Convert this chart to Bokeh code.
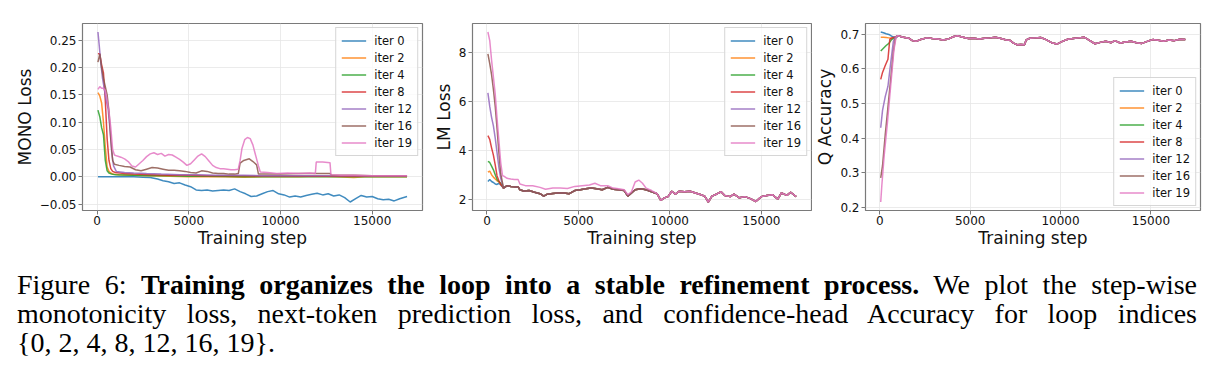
from bokeh.plotting import figure
from bokeh.models import (Range1d, FixedTicker, CustomJSTickFormatter, PrintfTickFormatter,
                          Legend, LegendItem, Div)
from bokeh.layouts import row, column
from bokeh.embed import file_html
from bokeh.resources import INLINE

LABELS = ["iter 0", "iter 2", "iter 4", "iter 8", "iter 12", "iter 16", "iter 19"]
COLORS = ["#1f77b4", "#ff7f0e", "#2ca02c", "#d62728", "#9467bd", "#8c564b", "#e377c2"]
X_TICKS = [0, 5000, 10000, 15000]

# ---------------- MONO loss ----------------
mono_steps_0 = [50, 500, 1000, 1500, 2000, 2500, 2900, 3300, 3600, 3900, 4200, 4500, 4800, 5100,
                5400, 5700, 6000, 6300, 6600, 6900, 7200, 7500, 7800, 8100, 8400, 8700, 9000, 9300,
                9600, 9900, 10200, 10500, 10800, 11100, 11400, 11700, 12000, 12300, 12600, 12900,
                13200, 13500, 13800, 14100, 14400, 14700, 15000, 15300, 15600, 15900, 16200, 16500, 16900]
mono_iter0 = [0.0, 0.0, 0.0, 0.0, 0.0, -0.0005, -0.001, -0.004, -0.007, -0.009, -0.012, -0.011, -0.015,
              -0.018, -0.024, -0.025, -0.024, -0.026, -0.025, -0.024, -0.025, -0.022, -0.027, -0.031,
              -0.036, -0.035, -0.031, -0.027, -0.025, -0.031, -0.033, -0.037, -0.035, -0.037, -0.034,
              -0.032, -0.030, -0.033, -0.031, -0.035, -0.033, -0.038, -0.046, -0.040, -0.034, -0.037,
              -0.036, -0.040, -0.042, -0.041, -0.044, -0.040, -0.036]

mono_steps_2 = [50, 150, 250, 350, 450, 550, 650, 750, 900, 1200, 2000, 3000, 4000, 5000, 6000, 7000,
                8000, 9000, 10000, 11000, 12000, 13000, 14000, 14600, 15500, 16900]
mono_iter2 = [0.154, 0.148, 0.135, 0.100, 0.055, 0.018, 0.010, 0.007, 0.005, 0.004, 0.003, 0.002,
              0.001, 0.000, 0.0005, 0.000, -0.0005, 0.000, 0.0005, 0.000, 0.001, 0.000, -0.001, 0.000,
              0.0005, 0.000]

mono_steps_4 = [50, 150, 250, 350, 450, 550, 650, 800, 1000, 2000, 3000, 4000, 5000, 6000, 7000, 8000,
                9000, 10000, 12000, 14000, 16900]
mono_iter4 = [0.122, 0.110, 0.090, 0.077, 0.030, 0.011, 0.007, 0.005, 0.004, 0.003, 0.002, 0.002,
              0.001, 0.001, 0.0005, 0.000, 0.000, 0.0005, 0.000, 0.000, 0.000]

mono_steps_8 = [50, 150, 250, 350, 450, 550, 650, 750, 850, 1000, 1500, 2000, 3000, 4000, 5000, 6000,
                7000, 8000, 9000, 10000, 12000, 14000, 16900]
mono_iter8 = [0.225, 0.225, 0.205, 0.190, 0.140, 0.070, 0.030, 0.015, 0.010, 0.008, 0.006, 0.005,
              0.004, 0.003, 0.003, 0.002, 0.002, 0.002, 0.0015, 0.0015, 0.001, 0.001, 0.001]

mono_steps_12 = [50, 120, 200, 300, 400, 500, 600, 700, 800, 900, 1050, 1500, 2000, 2700, 3500, 4500,
                 5500, 6500, 8000, 9000, 10000, 12000, 14000, 16900]
mono_iter12 = [0.265, 0.240, 0.210, 0.180, 0.160, 0.140, 0.125, 0.090, 0.045, 0.020, 0.010, 0.008,
               0.007, 0.006, 0.005, 0.004, 0.004, 0.003, 0.003, 0.002, 0.002, 0.002, 0.002, 0.002]

mono_steps_16 = [50, 150, 250, 350, 450, 550, 650, 750, 850, 950, 1200, 1500, 1800, 2100, 2400, 2700,
                 3000, 3300, 3600, 3900, 4200, 4500, 4800, 5100, 5400, 5700, 6000, 6300, 6600, 6900,
                 7200, 7500, 7700, 7800, 8000, 8300, 8500, 8700, 8800, 9200, 10000, 11000, 11900,
                 12000, 12700, 12800, 14000, 15000, 16900]
mono_iter16 = [0.210, 0.225, 0.200, 0.180, 0.165, 0.150, 0.120, 0.070, 0.030, 0.023, 0.021, 0.019,
               0.018, 0.013, 0.011, 0.014, 0.017, 0.016, 0.014, 0.012, 0.012, 0.011, 0.010, 0.008,
               0.007, 0.011, 0.010, 0.007, 0.006, 0.006, 0.005, 0.005, 0.006, 0.025, 0.030, 0.033,
               0.028, 0.022, 0.005, 0.005, 0.005, 0.006, 0.006, 0.006, 0.006, 0.003, 0.003, 0.002, 0.002]

mono_steps_19 = [50, 150, 250, 350, 450, 550, 650, 750, 850, 950, 1100, 1300, 1500, 1700, 1900, 2100,
                 2300, 2500, 2700, 2900, 3100, 3300, 3500, 3700, 3900, 4100, 4300, 4500, 4700, 4900,
                 5100, 5300, 5500, 5700, 5900, 6100, 6300, 6500, 6700, 6900, 7100, 7300, 7500, 7700,
                 7800, 7900, 8050, 8200, 8350, 8500, 8600, 8800, 8900, 9300, 9800, 10400, 11000, 11600,
                 11900, 11950, 12300, 12700, 12750, 13300, 14000, 15000, 16000, 16900]
mono_iter19 = [0.160, 0.165, 0.162, 0.162, 0.158, 0.140, 0.120, 0.090, 0.050, 0.040, 0.038, 0.036,
               0.033, 0.028, 0.020, 0.018, 0.024, 0.030, 0.037, 0.042, 0.044, 0.041, 0.043, 0.038,
               0.041, 0.040, 0.036, 0.032, 0.027, 0.021, 0.024, 0.031, 0.038, 0.042, 0.037, 0.029,
               0.021, 0.017, 0.015, 0.015, 0.014, 0.013, 0.013, 0.014, 0.030, 0.052, 0.068, 0.072,
               0.070, 0.058, 0.045, 0.020, 0.009, 0.008, 0.006, 0.007, 0.006, 0.007, 0.006, 0.027,
               0.027, 0.026, 0.004, 0.003, 0.003, 0.002, 0.002, 0.002]

# ---------------- LM loss ----------------
lm_head_steps = [50, 150, 250, 350, 450, 550, 650, 750, 850]
lm_head = {
    "iter 0": [2.72, 2.80, 2.72, 2.68, 2.62, 2.60, 2.65, 2.58, 2.50],
    "iter 2": [3.10, 3.15, 3.00, 2.90, 2.82, 2.75, 2.70, 2.62, 2.52],
    "iter 4": [3.55, 3.50, 3.35, 3.20, 3.00, 2.80, 2.72, 2.65, 2.52],
    "iter 8": [4.60, 4.45, 4.10, 3.80, 3.40, 2.95, 2.75, 2.60, 2.52],
    "iter 12": [6.35, 5.80, 5.35, 5.00, 4.50, 3.90, 3.30, 2.85, 2.60],
    "iter 16": [7.95, 7.55, 7.10, 6.50, 5.80, 4.90, 3.90, 3.05, 2.65],
    "iter 19": [8.85, 8.50, 7.70, 7.00, 6.30, 5.30, 4.40, 3.50, 2.95],
}
lm_tail_steps = [900, 1100, 1300, 1500, 1700, 1800, 2000, 2300, 2600, 2900, 3100, 3300, 3600, 3900,
                 4200, 4500, 4800, 5100, 5400, 5700, 6000, 6300, 6600, 6900, 7200, 7500, 7700, 7900,
                 8100, 8400, 8700, 9000, 9300, 9500, 9700, 9900, 10100, 10300, 10500, 10800, 11100,
                 11400, 11700, 11900, 12100, 12300, 12600, 12800, 13000, 13300, 13500, 13800, 14100,
                 14400, 14700, 15000, 15300, 15600, 15900, 16100, 16400, 16600, 16900]
lm_tail = [2.45, 2.55, 2.52, 2.50, 2.50, 2.38, 2.33, 2.35, 2.28, 2.22, 2.12, 2.20, 2.23, 2.25, 2.25,
           2.22, 2.35, 2.38, 2.42, 2.45, 2.42, 2.38, 2.48, 2.40, 2.38, 2.35, 2.12, 2.25, 2.38, 2.42,
           2.38, 2.30, 2.22, 1.95, 2.05, 2.10, 2.32, 2.20, 2.32, 2.30, 2.32, 2.25, 2.18, 2.12, 1.88,
           2.12, 2.22, 2.30, 2.15, 2.10, 2.20, 2.05, 2.10, 2.02, 1.90, 2.10, 2.15, 2.18, 2.00, 2.25,
           2.15, 2.28, 2.10]
# iter 19 sits a little higher until ~9k steps, then follows the others
lm19_mid_steps = [900, 1100, 1300, 1500, 1700, 1800, 2100, 2500, 2900, 3200, 3600, 4000, 4400, 4800,
                  5200, 5600, 5900, 6200, 6600, 6900, 7200, 7500, 7700, 7900, 8100, 8300, 8500, 8700,
                  9000]
lm19_mid = [2.95, 2.85, 2.82, 2.80, 2.80, 2.62, 2.55, 2.55, 2.48, 2.40, 2.45, 2.45, 2.43, 2.52, 2.55,
            2.58, 2.65, 2.55, 2.55, 2.45, 2.42, 2.38, 2.18, 2.30, 2.70, 2.78, 2.65, 2.45, 2.35]

# ---------------- Q accuracy ----------------
q_head = {
    "iter 0": ([50, 200, 350, 500, 650, 800, 950], [0.707, 0.705, 0.702, 0.700, 0.695, 0.692, 0.692]),
    "iter 2": ([50, 200, 350, 500, 650, 800, 950], [0.692, 0.692, 0.691, 0.690, 0.688, 0.690, 0.694]),
    "iter 4": ([50, 200, 350, 500, 650, 800, 950], [0.652, 0.660, 0.668, 0.674, 0.685, 0.690, 0.694]),
    "iter 8": ([50, 150, 300, 450, 550, 650, 800, 950], [0.570, 0.590, 0.610, 0.628, 0.685, 0.690, 0.692, 0.695]),
    "iter 12": ([50, 150, 300, 450, 600, 750, 850, 950], [0.430, 0.480, 0.520, 0.550, 0.617, 0.680, 0.692, 0.695]),
    "iter 16": ([50, 150, 300, 450, 600, 750, 850, 950], [0.285, 0.320, 0.410, 0.490, 0.570, 0.650, 0.685, 0.696]),
    "iter 19": ([50, 110, 240, 420, 600, 780, 900, 980], [0.215, 0.262, 0.348, 0.444, 0.550, 0.655, 0.692, 0.697]),
}
q_tail_steps = [1000, 1300, 1600, 1800, 2000, 2300, 2600, 2900, 3200, 3500, 3800, 4100, 4300, 4600,
                4900, 5200, 5500, 5800, 6100, 6400, 6700, 7000, 7200, 7400, 7600, 7800, 8000, 8100,
                8300, 8600, 8900, 9200, 9500, 9800, 10100, 10400, 10700, 11000, 11300, 11600, 11900,
                12200, 12500, 12800, 13000, 13300, 13600, 13900, 14200, 14500, 14800, 15100, 15400,
                15700, 16000, 16300, 16600, 16900]
q_tail = [0.696, 0.692, 0.689, 0.682, 0.680, 0.686, 0.690, 0.688, 0.687, 0.684, 0.687, 0.694, 0.696,
          0.692, 0.688, 0.689, 0.687, 0.689, 0.690, 0.692, 0.688, 0.684, 0.683, 0.675, 0.670, 0.671,
          0.670, 0.684, 0.689, 0.690, 0.691, 0.685, 0.676, 0.672, 0.680, 0.686, 0.688, 0.690, 0.692,
          0.683, 0.673, 0.677, 0.680, 0.676, 0.682, 0.675, 0.678, 0.680, 0.676, 0.674, 0.680, 0.685,
          0.683, 0.680, 0.684, 0.682, 0.686, 0.685]

mono_series = [
    (mono_steps_0, mono_iter0), (mono_steps_2, mono_iter2), (mono_steps_4, mono_iter4),
    (mono_steps_8, mono_iter8), (mono_steps_12, mono_iter12), (mono_steps_16, mono_iter16),
    (mono_steps_19, mono_iter19),
]
lm_series = []
for lab in LABELS:
    if lab == "iter 19":
        late = [(s, v) for s, v in zip(lm_tail_steps, lm_tail) if s > lm19_mid_steps[-1]]
        xs = lm_head_steps + lm19_mid_steps + [s for s, _ in late]
        ys = lm_head[lab] + lm19_mid + [v for _, v in late]
    else:
        xs = lm_head_steps + lm_tail_steps
        ys = lm_head[lab] + lm_tail
    lm_series.append((xs, ys))
q_series = [(q_head[lab][0] + q_tail_steps, q_head[lab][1] + q_tail) for lab in LABELS]

FRAME = "#7a7a7a"
FONT = "DejaVu Sans"


def padded(values, frac=0.05):
    lo, hi = min(values), max(values)
    span = hi - lo
    return lo - frac * span, hi + frac * span


def panel(series, ylabel, yticks, yfmt, width, left, right, legend_loc):
    all_x = [x for xs, _ in series for x in xs]
    all_y = [y for _, ys in series for y in ys]
    x0, x1 = padded(all_x)
    y0, y1 = padded(all_y)
    p = figure(width=width, height=270, output_backend="svg", toolbar_location=None,
               x_range=Range1d(x0, x1), y_range=Range1d(y0, y1),
               min_border_left=left, min_border_right=right, min_border_top=23,
               min_border_bottom=60)
    p.outline_line_color = FRAME
    p.outline_line_width = 1.2
    p.background_fill_color = "white"
    p.border_fill_color = "white"

    p.xaxis.ticker = FixedTicker(ticks=X_TICKS)
    p.xaxis.formatter = PrintfTickFormatter(format="%d")
    p.yaxis.ticker = FixedTicker(ticks=yticks)
    p.yaxis.formatter = CustomJSTickFormatter(
        code=f"return tick.toFixed({yfmt}).replace('-', '\\u2212');")
    p.xaxis.axis_label = "Training step"
    p.yaxis.axis_label = ylabel
    for ax in (p.xaxis[0], p.yaxis[0]):
        ax.axis_line_color = None
        ax.major_tick_line_color = FRAME
        ax.major_tick_out = 4
        ax.major_tick_in = 0
        ax.minor_tick_line_color = None
        ax.major_label_text_font = FONT
        ax.major_label_text_font_size = "12px"
        ax.major_label_text_color = "#111111"
        ax.axis_label_text_font = FONT
        ax.axis_label_text_font_size = "17px"
        ax.axis_label_text_font_style = "normal"
        ax.axis_label_text_color = "#111111"
    p.xaxis.major_label_standoff = 1
    p.xaxis.axis_label_standoff = 0
    p.yaxis.major_label_standoff = 2
    p.yaxis.axis_label_standoff = 2
    for g in (p.xgrid[0], p.ygrid[0]):
        g.grid_line_color = "#e6e6e6"
        g.grid_line_width = 0.8

    items = []
    for (xs, ys), lab, col in zip(series, LABELS, COLORS):
        r = p.line(xs, ys, line_color=col, line_width=1.5, line_alpha=0.85)
        items.append(LegendItem(label=lab, renderers=[r]))
    leg = Legend(items=items, location=legend_loc)
    leg.label_text_font = FONT
    leg.label_text_font_size = "11.5px"
    leg.label_text_color = "#111111"
    leg.glyph_width = 25
    leg.glyph_height = 15
    leg.label_height = 15
    leg.spacing = 2
    leg.padding = 5
    leg.margin = 4
    leg.label_standoff = 8
    leg.border_line_color = "#cccccc"
    leg.border_line_alpha = 0.8
    leg.background_fill_alpha = 0.8
    p.add_layout(leg)
    return p


p1 = panel(mono_series, "MONO Loss", [-0.05, 0.0, 0.05, 0.10, 0.15, 0.20, 0.25], 2,
           430, 82, 8, "top_right")
p2 = panel(lm_series, "LM Loss", [2, 4, 6, 8], 0, 382, 42, 1, "top_right")
p3 = panel(q_series, "Q Accuracy", [0.2, 0.3, 0.4, 0.5, 0.6, 0.7], 1, 407, 48, 19, "bottom_right")

line_css = "text-align:justify;text-align-last:justify;white-space:normal;"
caption_html = (
    "<div style=\"font-family:'Liberation Serif',serif;font-size:28px;line-height:29px;"
    "color:#000;width:1180px;margin-left:17px;\">"
    f"<div style=\"{line_css}\">Figure 6: <b>Training organizes the loop into a stable refinement "
    "process.</b> We plot the step-wise</div>"
    f"<div style=\"{line_css}\">monotonicity loss, next-token prediction loss, and confidence-head "
    "Accuracy for loop indices</div>"
    "<div style=\"text-align:left;\">{0, 2, 4, 8, 12, 16, 19}.</div>"
    "</div>"
)
caption = Div(text=caption_html, width=1219, height=112, margin=(0, 0, 0, 0))

layout = column(row(p1, p2, p3, spacing=0), caption, spacing=0)

with open("out.html", "w") as f:
    f.write(file_html(layout, INLINE, title="Training loop refinement"))
